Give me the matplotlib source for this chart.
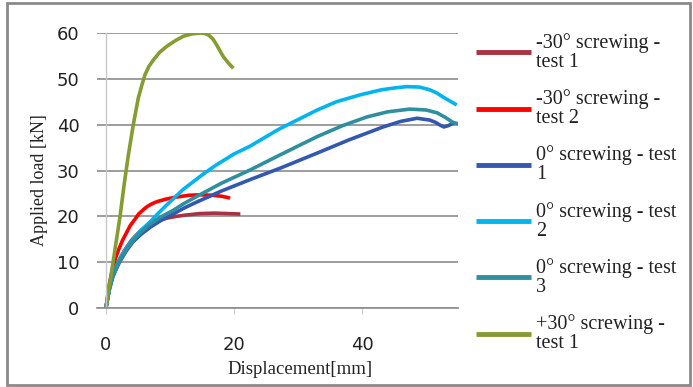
import matplotlib
matplotlib.use("Agg")
import matplotlib.pyplot as plt
from matplotlib.patches import Rectangle

# ---- data ----
x_m30_t1 = [0, 0.5, 1, 1.5, 2, 2.5, 3, 4, 5, 6, 7, 8, 9.5, 11, 12.6, 14.7, 17, 19, 21]
y_m30_t1 = [0, 4, 6.8, 8.7, 10.3, 11.6, 12.8, 14.8, 16.3, 17.5, 18.4, 19, 19.6, 20, 20.3, 20.6, 20.7, 20.6, 20.5]

x_m30_t2 = [0, 0.5, 1.1, 1.5, 2, 2.6, 3.2, 3.8, 4.5, 5.1, 5.8, 6.4, 7, 7.6, 8.2, 9.5, 11, 13, 14.7, 16.5, 18, 19.4]
y_m30_t2 = [0, 5, 9, 10.9, 12.8, 14.8, 16.4, 18, 19.3, 20.5, 21.4, 22.1, 22.6, 23, 23.3, 23.8, 24.2, 24.6, 24.7, 24.6, 24.4, 24]

x_0_t1 = [0, 0.5, 1, 1.6, 2.2, 3.2, 4.2, 5.5, 6.9, 8.6, 10.5, 12.2, 14, 18, 22.5, 27.2, 33, 38, 43.3, 46,
          48.6, 50.6, 51.5, 52.2, 52.8, 53.5, 54.5]
y_0_t1 = [0, 3.8, 6.5, 8.5, 10.2, 12.5, 14.4, 16.1, 17.6, 19.1, 20.5, 21.8, 23, 25.5, 28, 30.5, 33.8, 36.7, 39.5, 40.7,
          41.4, 41, 40.5, 39.9, 39.5, 39.8, 40.5]

x_0_t2 = [0, 0.5, 1, 1.6, 2.2, 3.2, 4.2, 5.5, 6.9, 8.2, 9.5, 10.8, 12, 13.4, 14.7, 17, 20, 22.5, 27, 33, 36, 39.7,
          43, 45, 47, 49, 50.6, 51.7, 52.7, 53.8, 54.8]
y_0_t2 = [0, 4, 6.8, 9, 10.8, 13.1, 15, 17, 18.8, 20.7, 22.5, 24.2, 25.8, 27.3, 28.7, 31, 33.6, 35.3, 39, 43.2, 45, 46.5,
          47.6, 48, 48.3, 48.2, 47.6, 46.9, 46, 45.1, 44.3]

x_0_t3 = [0, 0.5, 1, 1.6, 2.2, 3.2, 4.2, 5.5, 6.9, 8.6, 10.5, 12.2, 14, 18, 22.5, 27.2, 33, 37, 40.8, 44, 47.5,
          50, 51.7, 53, 54.2, 55]
y_0_t3 = [0, 3.9, 6.6, 8.7, 10.5, 12.8, 14.7, 16.6, 18.3, 19.9, 21.3, 22.8, 24.2, 27.2, 30.1, 33.4, 37.4, 39.8, 41.7,
          42.8, 43.4, 43.2, 42.6, 41.6, 40.5, 40.2]

x_p30_t1 = [0, 0.5, 1, 1.6, 2.2, 2.8, 3.5, 4.27, 5.05, 5.6, 6.1, 6.7, 7.4, 8.4, 9.5, 10.8, 12.1, 13.4, 14.7,
            15.4, 16, 16.7, 17.3, 18.3, 19.1, 19.9]
y_p30_t1 = [0, 4.5, 9, 14.5, 20, 26.5, 33.4, 40, 45.8, 48.6, 50.9, 52.7, 54.1, 55.8, 57.1, 58.3, 59.3, 59.8, 60,
            59.9, 59.6, 58.7, 57.4, 54.9, 53.5, 52.3]

labels = ["-30° screwing -\ntest 1", "-30° screwing -\ntest 2",
          "0° screwing - test\n1", "0° screwing - test\n2",
          "0° screwing - test\n3", "+30° screwing -\ntest 1"]
colors = ["#A8323F", "#FF0000", "#3358B0", "#00B4F0", "#2E8F9E", "#859C34"]

x_ticks = [0, 20, 40]
y_ticks = [0, 10, 20, 30, 40, 50, 60]

series = [(x_m30_t1, y_m30_t1), (x_m30_t2, y_m30_t2), (x_0_t1, y_0_t1),
          (x_0_t2, y_0_t2), (x_0_t3, y_0_t3), (x_p30_t1, y_p30_t1)]

fig = plt.figure(figsize=(6.93, 3.87), dpi=100)
ax = fig.add_axes([97/693, 1 - 308/387, (458 - 97)/693, (308 - 33)/387])

for (xs, ys), lab, c in zip(series, labels, colors):
    ax.plot(xs, ys, color=c, lw=2.6, label=lab, solid_capstyle="butt", solid_joinstyle="round")

ax.set_xlim(-1.4, 55)
ax.set_ylim(0, 60)
ax.set_xticks(x_ticks)
ax.set_yticks(y_ticks)

ax.grid(axis="y", color="#8c8c8c", lw=1.2)
ax.set_axisbelow(True)
gl = ax.yaxis.get_gridlines()
for g, t in zip(gl, y_ticks):
    if t > 40:
        g.set_visible(False)

for s in ["top", "right"]:
    ax.spines[s].set_visible(False)
ax.spines["left"].set_position(("data", 0))
ax.spines["left"].set_color("#c8c8c8")
ax.spines["left"].set_linewidth(1.0)
ax.spines["bottom"].set_color("#8c8c8c")
ax.spines["bottom"].set_linewidth(1.2)

ax.tick_params(axis="y", length=0, pad=19, labelsize=13, labelcolor="#222222")
ax.tick_params(axis="x", length=4, color="#c8c8c8", pad=16, labelsize=13, labelcolor="#222222")
for lbl in ax.get_xticklabels() + ax.get_yticklabels():
    lbl.set_family("DejaVu Sans")

fig.text(40/693, 1 - 180/387, "Applied load [kN]", rotation=90, ha="center", va="center",
         family="Liberation Serif", fontsize=13, color="#222222")
fig.text(300/693, 1 - 369/387, "Displacement[mm]", ha="center", va="center",
         family="Liberation Serif", fontsize=13.5, color="#222222")

leg = fig.legend(loc="upper left", bbox_to_anchor=(476/693, 1 - 33/387),
                 frameon=False, prop={"family": "Liberation Serif", "size": 14.5},
                 handlelength=2.75, handletextpad=0.25, labelspacing=0.86,
                 borderaxespad=0, borderpad=0)
for t in leg.get_texts():
    t.set_color("#222222")
    t.set_linespacing(1.0)
for h in leg.get_lines():
    h.set_linewidth(3.5)

fig.patches.append(Rectangle((7/693, 2/387), 683/693, 382/387, transform=fig.transFigure,
                             fill=False, edgecolor="#8a8a8a", lw=2))

fig.savefig("out.png", dpi=100)
